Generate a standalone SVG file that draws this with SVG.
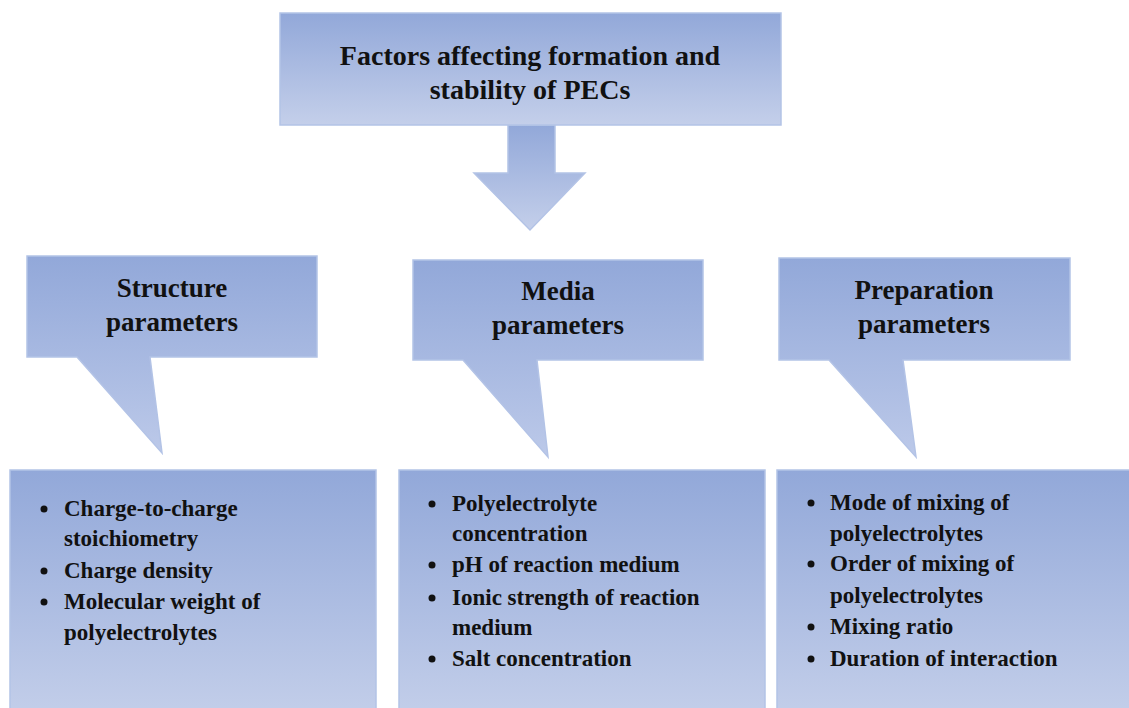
<svg xmlns="http://www.w3.org/2000/svg" width="1129" height="708" viewBox="0 0 1129 708">
<defs>
<linearGradient id="g" x1="0" y1="0" x2="0" y2="1">
<stop offset="0" stop-color="#92A8D9"/>
<stop offset="1" stop-color="#C4CFEA"/>
</linearGradient>
<linearGradient id="gc" x1="0" y1="0" x2="0" y2="1">
<stop offset="0" stop-color="#92A8D9"/>
<stop offset="1" stop-color="#BCC9E9"/>
</linearGradient>
<style>
.shape{fill:url(#g);stroke:#B3C3E6;stroke-width:1.5}
.call{fill:url(#gc);stroke:#B3C3E6;stroke-width:1.5}
.t{font-family:"Liberation Serif","Times New Roman",serif;font-weight:bold;fill:#111}
.h{font-size:28px;text-anchor:middle}
.s{font-size:27px;text-anchor:middle}
.l{font-size:23px}
.b{fill:#111}
</style>
</defs>
<rect width="1129" height="708" fill="#fff"/>
<g id="connectors">
<path class="shape" d="M508,125 L555,125 L555,173 L585,173 L530,230 L474,173 L508,173 Z"/>
</g>
<g id="title">
<rect class="shape" x="280" y="13" width="501" height="112"/>
<text class="t h" x="530" y="65">Factors affecting formation and</text>
<text class="t h" x="530" y="99">stability of PECs</text>
</g>
<g id="structure">
<path class="call" d="M27,256 L317,256 L317,357 L150,357 L162,453 L77,357 L27,357 Z"/>
<text class="t s" x="172" y="297">Structure</text>
<text class="t s" x="172" y="331">parameters</text>
</g>
<g id="media">
<path class="call" d="M413,260 L703,260 L703,360 L537,360 L548,457 L463,360 L413,360 Z"/>
<text class="t s" x="558" y="300">Media</text>
<text class="t s" x="558" y="334">parameters</text>
</g>
<g id="preparation">
<path class="call" d="M779,258 L1070,258 L1070,360 L903,360 L916,457 L829,360 L779,360 Z"/>
<text class="t s" x="924" y="299">Preparation</text>
<text class="t s" x="924" y="333">parameters</text>
</g>
<g id="structure-list">
<rect class="shape" x="10" y="470" width="366" height="250"/>
<circle class="b" cx="44" cy="509" r="3.5"/>
<circle class="b" cx="44" cy="571" r="3.5"/>
<circle class="b" cx="44" cy="602" r="3.5"/>
<g class="t l">
<text x="64" y="516">Charge-to-charge</text>
<text x="64" y="546">stoichiometry</text>
<text x="64" y="578">Charge density</text>
<text x="64" y="609">Molecular weight of</text>
<text x="64" y="640">polyelectrolytes</text>
</g>
</g>
<g id="media-list">
<rect class="shape" x="399" y="470" width="366" height="250"/>
<circle class="b" cx="432" cy="504" r="3.5"/>
<circle class="b" cx="432" cy="565" r="3.5"/>
<circle class="b" cx="432" cy="598" r="3.5"/>
<circle class="b" cx="432" cy="659" r="3.5"/>
<g class="t l">
<text x="452" y="511">Polyelectrolyte</text>
<text x="452" y="541">concentration</text>
<text x="452" y="572">pH of reaction medium</text>
<text x="452" y="605">Ionic strength of reaction</text>
<text x="452" y="635">medium</text>
<text x="452" y="666">Salt concentration</text>
</g>
</g>
<g id="preparation-list">
<rect class="shape" x="777" y="470" width="366" height="250"/>
<circle class="b" cx="811" cy="503" r="3.5"/>
<circle class="b" cx="811" cy="564" r="3.5"/>
<circle class="b" cx="811" cy="627" r="3.5"/>
<circle class="b" cx="811" cy="659" r="3.5"/>
<g class="t l">
<text x="830" y="510">Mode of mixing of</text>
<text x="830" y="541">polyelectrolytes</text>
<text x="830" y="571">Order of mixing of</text>
<text x="830" y="603">polyelectrolytes</text>
<text x="830" y="634">Mixing ratio</text>
<text x="830" y="666">Duration of interaction</text>
</g>
</g>
</svg>
